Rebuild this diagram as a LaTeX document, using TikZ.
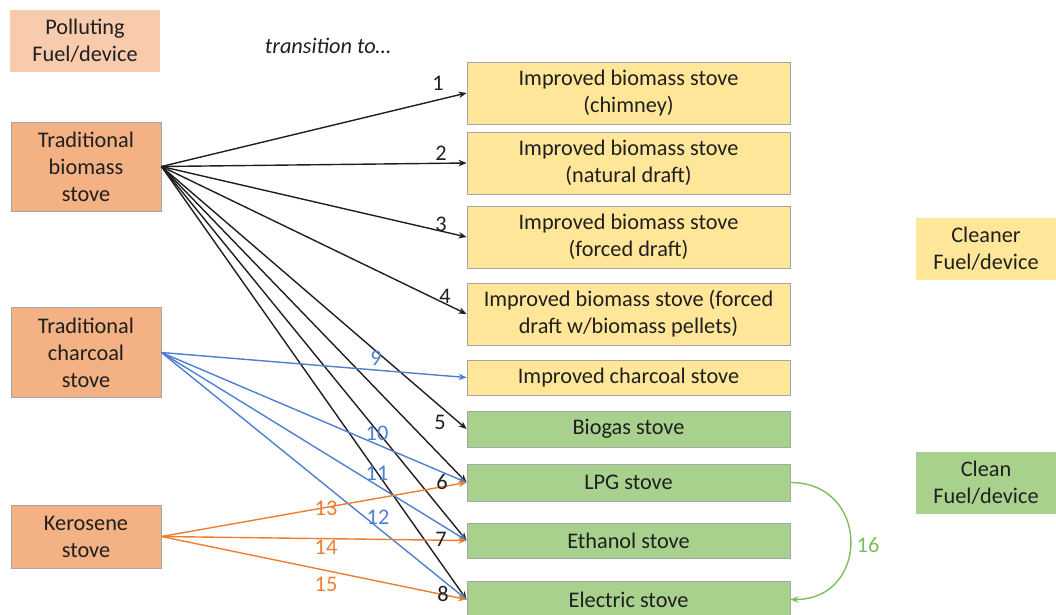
\documentclass[tikz,border=0pt]{standalone}
\usepackage{fontspec}
\setmainfont{Carlito}
\usepackage{xcolor}
\usetikzlibrary{arrows.meta}

\definecolor{pollLight}{HTML}{F8CBAD}
\definecolor{pollFill}{HTML}{F4B183}
\definecolor{cleanerFill}{HTML}{FFE699}
\definecolor{cleanFill}{HTML}{A9D18E}
\definecolor{boxLine}{HTML}{A6A6A6}
\definecolor{txt}{HTML}{1F1F1F}
\definecolor{charBlue}{HTML}{4F7FD0}
\definecolor{keroOrange}{HTML}{ED7D31}
\definecolor{swGreen}{HTML}{7DBE5A}

\begin{document}
\begin{tikzpicture}[x=1pt,y=-1pt,
  font=\fontsize{22.3}{27}\selectfont, text=txt,
  box/.style={rectangle, inner sep=0pt, align=center, draw=boxLine, line width=0.9pt},
  pollbox/.style={box, fill=pollFill, minimum width=150pt},
  cleanerbox/.style={box, fill=cleanerFill, minimum width=323pt},
  cleanbox/.style={box, fill=cleanFill, minimum width=323pt},
  legendbox/.style={rectangle, inner sep=0pt, align=center, minimum height=62pt},
  num/.style={inner sep=0pt},
  tr/.style={-{Stealth[length=8pt,width=6.5pt]}, line width=1.4pt},
  biomassTr/.style={tr, txt},
  charcoalTr/.style={tr, charBlue},
  keroseneTr/.style={tr, keroOrange}]
\useasboundingbox (0,0) rectangle (1056,614);

% legend
\node[legendbox, fill=pollLight, minimum width=150pt] (legPoll) at (85,40.5) {Polluting\\Fuel/device};
\node[legendbox, fill=cleanerFill, minimum width=140pt] (legCleaner) at (986,249) {Cleaner\\Fuel/device};
\node[legendbox, fill=cleanFill, minimum width=140pt] (legClean) at (986,483) {Clean\\Fuel/device};
\node (trans) at (328,46) {\itshape transition to\dots};

% polluting stoves
\node[pollbox, minimum height=89pt] (tradBiomass) at (86,166.5) {Traditional\\biomass\\stove};
\node[pollbox, minimum height=90pt] (tradCharcoal) at (86,352.5) {Traditional\\charcoal\\stove};
\node[pollbox, minimum height=63pt] (kerosene) at (86,536.5) {Kerosene\\stove};

% cleaner and clean stoves
\node[cleanerbox, minimum height=62pt] (ibChimney) at (628.5,93) {Improved biomass stove\\(chimney)};
\node[cleanerbox, minimum height=62pt] (ibNatural) at (628.5,163) {Improved biomass stove\\(natural draft)};
\node[cleanerbox, minimum height=62pt] (ibForced) at (628.5,237) {Improved biomass stove\\(forced draft)};
\node[cleanerbox, minimum height=62pt] (ibPellets) at (628.5,314) {Improved biomass stove (forced\\draft w/biomass pellets)};
\node[cleanerbox, minimum height=35pt] (icCharcoal) at (628.5,377.5) {Improved charcoal stove};
\node[cleanbox, minimum height=36pt] (biogas) at (628.5,429) {Biogas stove};
\node[cleanbox, minimum height=37pt] (lpg) at (628.5,482.5) {LPG stove};
\node[cleanbox, minimum height=35pt] (ethanol) at (628.5,540.5) {Ethanol stove};
\node[cleanbox, minimum height=37pt] (electric) at (628.5,599.5) {Electric stove};

% transitions
\draw[biomassTr] (tradBiomass.east) -- (ibChimney.west);
\draw[biomassTr] (tradBiomass.east) -- (ibNatural.west);
\draw[biomassTr] (tradBiomass.east) -- (ibForced.west);
\draw[biomassTr] (tradBiomass.east) -- (ibPellets.west);
\draw[biomassTr] (tradBiomass.east) -- (biogas.west);
\draw[biomassTr] (tradBiomass.east) -- (lpg.west);
\draw[biomassTr] (tradBiomass.east) -- (ethanol.west);
\draw[biomassTr] (tradBiomass.east) -- (electric.west);
\draw[charcoalTr] (tradCharcoal.east) -- (icCharcoal.west);
\draw[charcoalTr] (tradCharcoal.east) -- (lpg.west);
\draw[charcoalTr] (tradCharcoal.east) -- (ethanol.west);
\draw[charcoalTr] (tradCharcoal.east) -- (electric.west);
\draw[keroseneTr] (kerosene.east) -- (lpg.west);
\draw[keroseneTr] (kerosene.east) -- (ethanol.west);
\draw[keroseneTr] (kerosene.east) -- (electric.west);
\draw[tr, swGreen] (lpg.east) to[out=0, in=0, looseness=1.75] (electric.east);

% transition numbers
\node[num] (n1) at (438,83) {1};
\node[num] (n2) at (441,153) {2};
\node[num] (n3) at (441,224) {3};
\node[num] (n4) at (445,296) {4};
\node[num] (n5) at (440,422) {5};
\node[num] (n6) at (442,482) {6};
\node[num] (n7) at (441,539) {7};
\node[num] (n8) at (443,594) {8};
\node[num, text=charBlue] (n9) at (376,358) {9};
\node[num, text=charBlue] (n10) at (377,433) {10};
\node[num, text=charBlue] (n11) at (377,473) {11};
\node[num, text=charBlue] (n12) at (378,517) {12};
\node[num, text=keroOrange] (n13) at (326,508) {13};
\node[num, text=keroOrange] (n14) at (326,547) {14};
\node[num, text=keroOrange] (n15) at (326,584) {15};
\node[num, text=swGreen] (n16) at (868,545) {16};
\end{tikzpicture}
\end{document}
